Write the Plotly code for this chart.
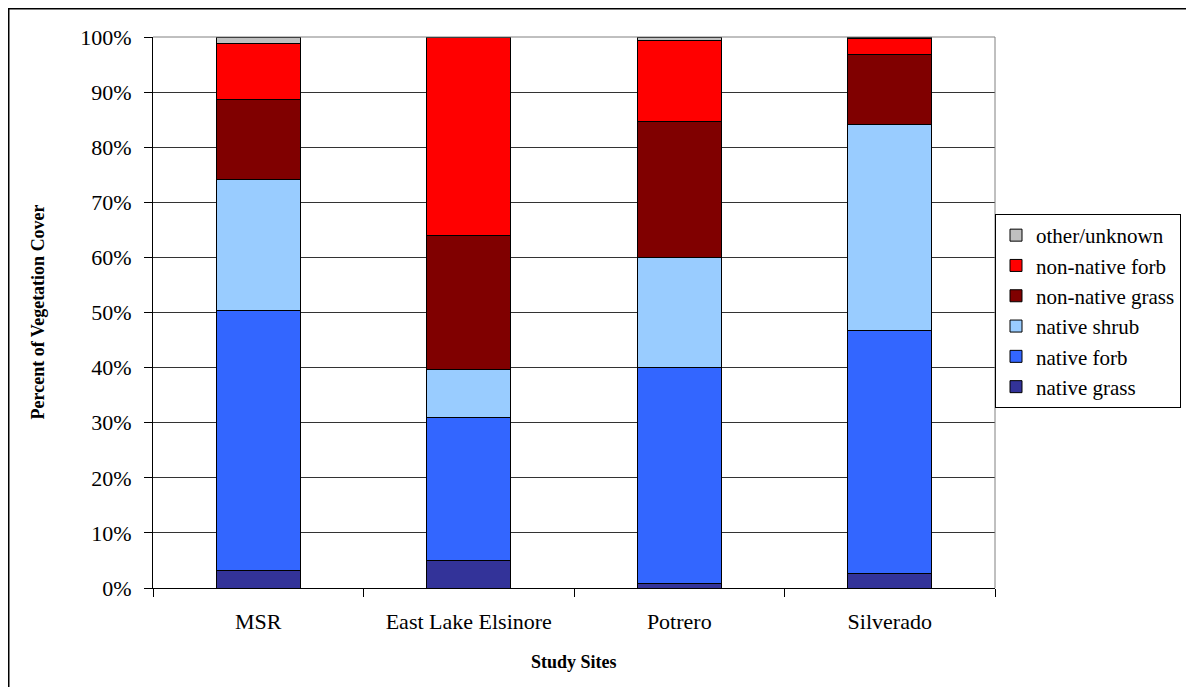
import plotly.graph_objects as go

sites = ["MSR", "East Lake Elsinore", "Potrero", "Silverado"]
native_grass = [3.2, 5.0, 0.9, 2.7]
native_forb = [47.1, 25.9, 39.2, 44.1]
native_shrub = [23.9, 8.8, 19.8, 37.4]
nonnative_grass = [14.5, 24.2, 24.7, 12.7]
nonnative_forb = [10.2, 36.1, 14.7, 2.8]
other_unknown = [1.1, 0.0, 0.7, 0.3]

series = [
    ("native grass", native_grass, "#333399"),
    ("native forb", native_forb, "#3366FF"),
    ("native shrub", native_shrub, "#99CCFF"),
    ("non-native grass", nonnative_grass, "#800000"),
    ("non-native forb", nonnative_forb, "#FF0000"),
    ("other/unknown", other_unknown, "#C0C0C0"),
]

fig = go.Figure()
for name, vals, col in series:
    fig.add_trace(go.Bar(
        x=sites, y=vals, name=name,
        marker=dict(color=col, line=dict(color="black", width=1)),
    ))

serif = "Liberation Serif"
fig.update_layout(
    barmode="stack",
    bargap=0.6,
    width=1186, height=679,
    margin=dict(l=145, r=199, t=29, b=99, autoexpand=False),
    paper_bgcolor="white",
    plot_bgcolor="white",
    font=dict(family=serif, size=22, color="black"),
    showlegend=True,
    legend=dict(
        traceorder="reversed",
        x=(995 - 153) / 842, y=(588 - 214) / 551, xanchor="left", yanchor="top",
        bordercolor="black", borderwidth=1,
        font=dict(family=serif, size=21, color="black"),
        itemwidth=30,
        tracegroupgap=0,
    ),
    xaxis=dict(
        showline=True, linecolor="black", linewidth=1,
        ticks="outside", tickson="boundaries", ticklen=8, tickcolor="black",
        tickfont=dict(family=serif, size=22),
        ticklabelstandoff=14,
        showgrid=False,
        mirror=False,
    ),
    yaxis=dict(
        range=[0, 100],
        tickvals=[0, 10, 20, 30, 40, 50, 60, 70, 80, 90, 100],
        ticktext=["0%", "10%", "20%", "30%", "40%", "50%", "60%", "70%", "80%", "90%", "100%"],
        showline=True, linecolor="black", linewidth=1,
        ticks="outside", ticklen=8, tickcolor="black",
        tickfont=dict(family=serif, size=22),
        ticklabelstandoff=8,
        showgrid=True, gridcolor="#333333", gridwidth=1,
        zeroline=False,
    ),
    shapes=[
        dict(type="line", xref="paper", yref="paper", x0=0, x1=1, y0=1, y1=1,
             line=dict(color="#808080", width=1)),
        dict(type="line", xref="paper", yref="paper", x0=1, x1=1, y0=0, y1=1,
             line=dict(color="#808080", width=1)),
        dict(type="rect", xref="paper", yref="paper",
             x0=(8.75 - 153) / 842, x1=1.25, y0=-0.21, y1=(588 - 8.75) / 551,
             line=dict(color="black", width=1.5), fillcolor="rgba(0,0,0,0)", layer="below"),
    ],
    annotations=[
        dict(text="<b>Percent of Vegetation Cover</b>", xref="paper", yref="paper",
             x=(37 - 153) / 842, y=0.5, textangle=-90, showarrow=False,
             xanchor="center", yanchor="middle",
             font=dict(family=serif, size=18, color="black")),
        dict(text="<b>Study Sites</b>", xref="paper", yref="paper",
             x=0.5, y=(588 - 662) / 551, showarrow=False,
             xanchor="center", yanchor="middle",
             font=dict(family=serif, size=18, color="black")),
    ],
)

fig.write_html("out.html")
